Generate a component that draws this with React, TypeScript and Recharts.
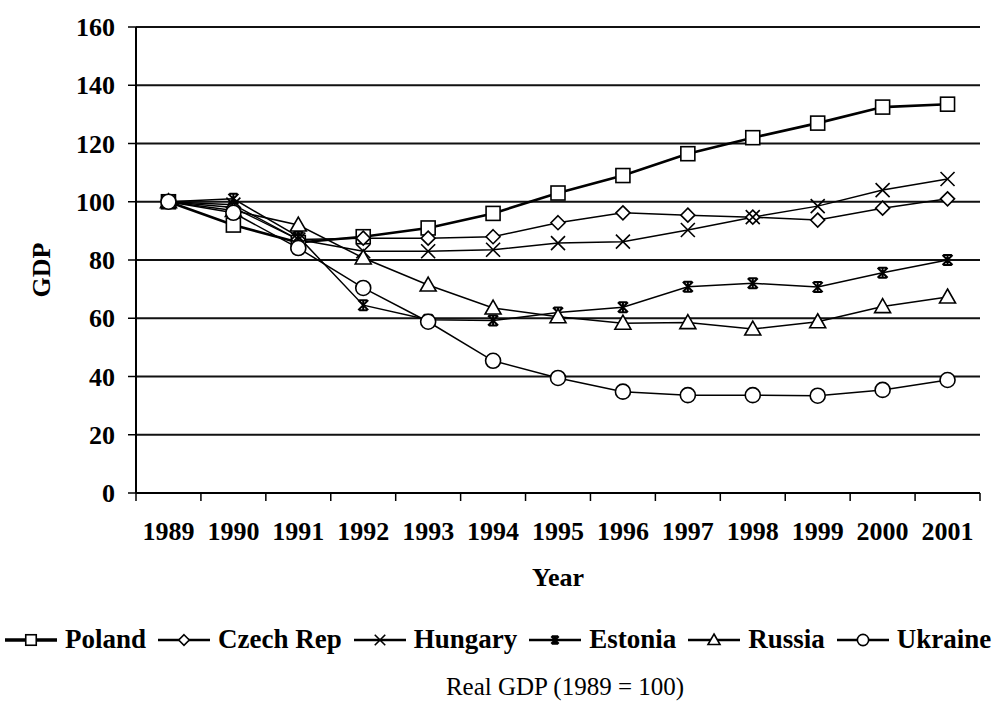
import React from 'react'
import { LineChart, Line, XAxis, YAxis, CartesianGrid } from 'recharts'

const years = [1989, 1990, 1991, 1992, 1993, 1994, 1995, 1996, 1997, 1998, 1999, 2000, 2001]
const poland = [100, 92, 86, 88, 91, 96, 103, 109, 116.5, 122, 127, 132.5, 133.5]
const czechRep = [100, 98, 87, 87.5, 87.5, 88, 92.8, 96.2, 95.4, 94.7, 93.7, 97.8, 101]
const hungary = [100, 99, 87, 83, 83, 83.5, 85.8, 86.3, 90.3, 94.7, 98.5, 104, 107.8]
const estonia = [100, 101, 88, 64.5, 59.5, 59.2, 62, 63.8, 70.8, 72, 70.7, 75.6, 80]
const russia = [100, 97, 92, 80.7, 71.4, 63.5, 60.5, 58.3, 58.5, 56.3, 58.8, 64, 67.3]
const ukraine = [100, 96.2, 84.1, 70.4, 58.8, 45.4, 39.5, 34.8, 33.6, 33.6, 33.4, 35.4, 38.8]
const yTicks = [0, 20, 40, 60, 80, 100, 120, 140, 160]

const data = years.map((year, i) => ({
  year,
  poland: poland[i],
  czechRep: czechRep[i],
  hungary: hungary[i],
  estonia: estonia[i],
  russia: russia[i],
  ukraine: ukraine[i],
}))

const FONT = '"Liberation Serif", "Times New Roman", serif'
const CHART_W = 992
const MARGIN_RIGHT = 12
const Y_AXIS_W = 136
const BAND = (CHART_W - MARGIN_RIGHT - Y_AXIS_W) / years.length

type Shape = 'square' | 'diamond' | 'cross' | 'star' | 'triangle' | 'circle'

function Marker({ shape, cx, cy, scale = 1 }: { shape: Shape; cx: number; cy: number; scale?: number }) {
  const s = scale
  const common = { fill: '#fff', stroke: '#000', strokeWidth: 1.6 }
  switch (shape) {
    case 'square':
      return <rect x={cx - 7 * s} y={cy - 7 * s} width={14 * s} height={14 * s} {...common} />
    case 'diamond':
      return (
        <path
          d={`M${cx},${cy - 7 * s}L${cx + 7 * s},${cy}L${cx},${cy + 7 * s}L${cx - 7 * s},${cy}Z`}
          {...common}
        />
      )
    case 'cross':
      return (
        <path
          d={`M${cx - 7 * s},${cy - 7 * s}L${cx + 7 * s},${cy + 7 * s}M${cx + 7 * s},${cy - 7 * s}L${cx - 7 * s},${cy + 7 * s}`}
          stroke="#000"
          strokeWidth={1.6}
          fill="none"
        />
      )
    case 'star':
      return (
        <path
          d={`M${cx - 5 * s},${cy - 5 * s}L${cx + 5 * s},${cy + 5 * s}M${cx + 5 * s},${cy - 5 * s}L${cx - 5 * s},${cy + 5 * s}M${cx},${cy - 5 * s}L${cx},${cy + 5 * s}M${cx - 4 * s},${cy - 5 * s}L${cx + 4 * s},${cy - 5 * s}M${cx - 4 * s},${cy + 5 * s}L${cx + 4 * s},${cy + 5 * s}`}
          stroke="#000"
          strokeWidth={2}
          fill="none"
        />
      )
    case 'triangle':
      return (
        <path
          d={`M${cx},${cy - 8 * s}L${cx + 8 * s},${cy + 6 * s}L${cx - 8 * s},${cy + 6 * s}Z`}
          {...common}
        />
      )
    default:
      return <circle cx={cx} cy={cy} r={7.5 * s} {...common} />
  }
}

const series: { key: string; name: string; shape: Shape; width: number }[] = [
  { key: 'poland', name: 'Poland', shape: 'square', width: 2.6 },
  { key: 'czechRep', name: 'Czech Rep', shape: 'diamond', width: 1.5 },
  { key: 'hungary', name: 'Hungary', shape: 'cross', width: 1.5 },
  { key: 'estonia', name: 'Estonia', shape: 'star', width: 1.5 },
  { key: 'russia', name: 'Russia', shape: 'triangle', width: 1.5 },
  { key: 'ukraine', name: 'Ukraine', shape: 'circle', width: 1.5 },
]

// year label in the middle of each band, tick marks on band edges (Excel style)
function YearTick(props: any) {
  const { x, y, payload, index } = props
  const last = index === years.length - 1
  return (
    <g>
      <line x1={x - BAND / 2} y1={y} x2={x - BAND / 2} y2={y + 8} stroke="#000" strokeWidth={1.5} />
      {last && <line x1={x + BAND / 2} y1={y} x2={x + BAND / 2} y2={y + 8} stroke="#000" strokeWidth={1.5} />}
      <text x={x} y={y + 47} textAnchor="middle" fontFamily={FONT} fontWeight="bold" fontSize={26} fill="#000">
        {payload.value}
      </text>
    </g>
  )
}

function LegendIcon({ shape, width }: { shape: Shape; width: number }) {
  return (
    <svg width={56} height={24} style={{ display: 'block' }}>
      <line x1={2} y1={12} x2={54} y2={12} stroke="#000" strokeWidth={width + 0.8} />
      <Marker shape={shape} cx={28} cy={12} scale={0.75} />
    </svg>
  )
}

export default function App() {
  return (
    <div style={{ position: 'absolute', left: 0, top: 0, width: 992, height: 702, background: '#fff' }}>
      <LineChart
        width={CHART_W}
        height={600}
        data={data}
        margin={{ top: 27, right: MARGIN_RIGHT, left: 0, bottom: 0 }}
      >
        <CartesianGrid vertical={false} stroke="#111" strokeWidth={1.8} />
        <XAxis
          dataKey="year"
          type="number"
          domain={[years[0] - 0.5, years[years.length - 1] + 0.5]}
          ticks={years}
          interval={0}
          height={107}
          tickSize={0}
          tickMargin={0}
          tickLine={false}
          tick={<YearTick />}
          axisLine={{ stroke: '#000', strokeWidth: 2 }}
          label={{
            value: 'Year',
            position: 'insideBottom',
            offset: 14,
            style: { fontFamily: FONT, fontWeight: 'bold', fontSize: 26, fill: '#000' },
          }}
        />
        <YAxis
          domain={[0, 160]}
          ticks={yTicks}
          width={Y_AXIS_W}
          tickSize={8}
          tickMargin={13}
          interval={0}
          tickLine={{ stroke: '#000', strokeWidth: 1.5 }}
          axisLine={{ stroke: '#000', strokeWidth: 2 }}
          tick={{ fontFamily: FONT, fontWeight: 'bold', fontSize: 26, fill: '#000' }}
          label={{
            content: () => (
              <text
                transform="translate(50,270) rotate(-90)"
                textAnchor="middle"
                fontFamily={FONT}
                fontWeight="bold"
                fontSize={26}
                fill="#000"
              >
                GDP
              </text>
            ),
          }}
        />
        <YAxis
          yAxisId="frame"
          orientation="right"
          domain={[0, 160]}
          width={0}
          tick={false}
          tickLine={false}
          axisLine={{ stroke: '#222', strokeWidth: 2 }}
        />
        {series.map((s) => (
          <Line
            key={s.key}
            dataKey={s.key}
            name={s.name}
            stroke="#000"
            strokeWidth={s.width}
            isAnimationActive={false}
            dot={(p: any) => <Marker key={`${s.key}-${p.index}`} shape={s.shape} cx={p.cx} cy={p.cy} />}
          />
        ))}
      </LineChart>

      <div
        style={{
          position: 'absolute',
          top: 624,
          left: 3,
          width: 992,
          display: 'flex',
          alignItems: 'center',
          fontFamily: FONT,
          fontWeight: 'bold',
          fontSize: 27,
          whiteSpace: 'nowrap',
        }}
      >
        {series.map((s) => (
          <div key={s.key} style={{ display: 'flex', alignItems: 'center', marginRight: 10 }}>
            <LegendIcon shape={s.shape} width={s.width} />
            <span style={{ marginLeft: 6 }}>{s.name}</span>
          </div>
        ))}
      </div>

      <div
        style={{
          position: 'absolute',
          top: 673,
          left: 0,
          width: 1130,
          textAlign: 'center',
          fontFamily: FONT,
          fontSize: 25,
        }}
      >
        Real GDP (1989 = 100)
      </div>
    </div>
  )
}
